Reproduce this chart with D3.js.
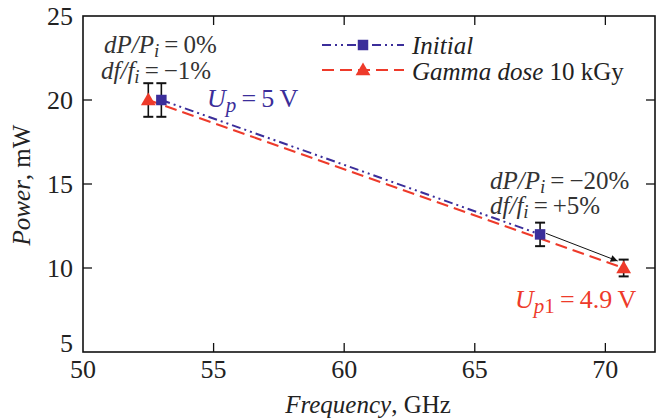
<!DOCTYPE html>
<html><head><meta charset="utf-8">
<script src="https://cdn.jsdelivr.net/npm/d3@7"></script>
</head><body style="margin:0">
<svg id="c" width="657" height="419"></svg>
<script>
const xTicks = [50, 55, 60, 65, 70];
const yTicks = [5, 10, 15, 20, 25];
const seriesNames = ["Initial", "Gamma dose"];
const initialFreq = [53.0, 67.5];
const initialPower = [20.0, 12.0];
const initialErr = [1.0, 0.7];
const gammaFreq = [52.5, 70.7];
const gammaPower = [20.0, 10.0];
const gammaErr = [1.0, 0.5];

const svg = d3.select("#c");
const L = 83, R = 655, T = 16, B = 352;
const x = d3.scaleLinear().domain([50, 71.9]).range([L, R]);
const y = d3.scaleLinear().domain([5, 25]).range([B, T]);
const blue = "#3b2e9a", red = "#ee3a2a", gray = "#333";
function txt(xp, yp, size, color) {
  return svg.append("text").style("font-family", "Liberation Serif")
    .attr("x", xp).attr("y", yp).style("font-size", size + "px").style("fill", color);
}

svg.append("rect").attr("x", L).attr("y", T).attr("width", R - L).attr("height", B - T)
  .attr("fill", "none").attr("stroke", "#111").attr("stroke-width", 1.6);

const tl = 9;
xTicks.forEach(t => {
  if (t === 50) return;
  svg.append("line").attr("x1", x(t)).attr("x2", x(t)).attr("y1", B).attr("y2", B - tl).attr("stroke", "#111").attr("stroke-width", 1.3);
  svg.append("line").attr("x1", x(t)).attr("x2", x(t)).attr("y1", T).attr("y2", T + tl).attr("stroke", "#111").attr("stroke-width", 1.3);
});
yTicks.forEach(t => {
  if (t === 5 || t === 25) return;
  svg.append("line").attr("x1", L).attr("x2", L + tl).attr("y1", y(t)).attr("y2", y(t)).attr("stroke", "#111").attr("stroke-width", 1.3);
  svg.append("line").attr("x1", R).attr("x2", R - tl).attr("y1", y(t)).attr("y2", y(t)).attr("stroke", "#111").attr("stroke-width", 1.3);
});
xTicks.forEach(t => {
  txt(x(t), B + 26, 26, "#222").attr("text-anchor", "middle").text(t);
});
yTicks.forEach(t => {
  txt(L - 10, y(t) + (t === 5 ? 0 : 9), 26, "#222").attr("text-anchor", "end").text(t);
});
const xt = txt(368, 413, 25, "#222").attr("text-anchor", "middle");
xt.append("tspan").style("font-style", "italic").text("Frequency");
xt.append("tspan").text(", GHz");
const yt = txt(0, 0, 25, "#222").attr("transform", "translate(30,185) rotate(-90)").attr("text-anchor", "middle");
yt.append("tspan").style("font-style", "italic").text("Power");
yt.append("tspan").text(", mW");

const line = d3.line().x(d => x(d[0])).y(d => y(d[1]));
const iData = initialFreq.map((f, i) => [f, initialPower[i], initialErr[i]]);
const gData = gammaFreq.map((f, i) => [f, gammaPower[i], gammaErr[i]]);
const blueDash = "9,4,2,4,2,4";
const redDash = "12,6";
svg.append("path").attr("d", line(gData)).attr("fill", "none").attr("stroke", red).attr("stroke-width", 2).attr("stroke-dasharray", redDash);
svg.append("path").attr("d", line(iData)).attr("fill", "none").attr("stroke", blue).attr("stroke-width", 2).attr("stroke-dasharray", blueDash);

function errBar(d) {
  const cx = x(d[0]);
  const y1 = y(d[1] + d[2]), y2 = y(d[1] - d[2]);
  svg.append("line").attr("x1", cx).attr("x2", cx).attr("y1", y1).attr("y2", y2).attr("stroke", "#111").attr("stroke-width", 1.6);
  [y1, y2].forEach(yy => svg.append("line").attr("x1", cx - 5).attr("x2", cx + 5).attr("y1", yy).attr("y2", yy).attr("stroke", "#111").attr("stroke-width", 2));
}
iData.forEach(errBar);
gData.forEach(errBar);

svg.append("defs").append("marker").attr("id", "ah").attr("viewBox", "0 0 10 10").attr("refX", 10).attr("refY", 5)
  .attr("markerWidth", 9).attr("markerHeight", 7).attr("orient", "auto").attr("markerUnits", "userSpaceOnUse")
  .append("path").attr("d", "M0,0L10,5L0,10Z").attr("fill", "#111");
svg.append("line").attr("x1", x(initialFreq[1]) + 6).attr("y1", y(initialPower[1]) - 1)
  .attr("x2", x(gammaFreq[1]) - 6).attr("y2", y(gammaPower[1]) - 7)
  .attr("stroke", "#111").attr("stroke-width", 1).attr("marker-end", "url(#ah)");

const sq = d3.symbol().type(d3.symbolSquare).size(110);
const tri = d3.symbol().type(d3.symbolTriangle).size(95);
svg.selectAll(".sq").data(iData).join("path").attr("transform", d => `translate(${x(d[0])},${y(d[1])})`).attr("d", sq).attr("fill", blue);
svg.selectAll(".tri").data(gData).join("path").attr("transform", d => `translate(${x(d[0])},${y(d[1]) + 1})`).attr("d", tri).attr("fill", red);

const lx1 = 322, lx2 = 404, lxm = 363;
svg.append("line").attr("x1", lx1).attr("x2", lx2).attr("y1", 45).attr("y2", 45).attr("stroke", blue).attr("stroke-width", 2).attr("stroke-dasharray", blueDash);
svg.append("path").attr("transform", `translate(${lxm},45)`).attr("d", sq).attr("fill", blue);
svg.append("line").attr("x1", lx1).attr("x2", lx2).attr("y1", 70).attr("y2", 70).attr("stroke", red).attr("stroke-width", 2).attr("stroke-dasharray", redDash);
svg.append("path").attr("transform", `translate(${lxm},71)`).attr("d", tri).attr("fill", red);
txt(412, 54, 25, "#222").style("font-style", "italic").text(seriesNames[0]);
const lg2 = txt(412, 80, 25, "#222");
lg2.append("tspan").style("font-style", "italic").text(seriesNames[1]);
lg2.append("tspan").text(" 10 kGy");

function ratio(xp, yp, num, den, val, color) {
  const t = txt(xp, yp, 25, color);
  t.append("tspan").style("font-style", "italic").text(num + "/" + den);
  t.append("tspan").style("font-style", "italic").style("font-size", "19px").attr("dy", 4).text("i");
  t.append("tspan").attr("dy", -4).text("\u2009=\u2009" + val);
  return t;
}
ratio(104, 53, "dP", "P", "0%", gray);
ratio(101, 79, "df", "f", "\u22121%", gray);
ratio(490, 189, "dP", "P", "\u221220%", gray);
ratio(490, 214, "df", "f", "+5%", gray);

const u1 = txt(207, 107, 26, blue);
u1.append("tspan").style("font-style", "italic").text("U");
u1.append("tspan").style("font-style", "italic").style("font-size", "21px").attr("dy", 5).text("p");
u1.append("tspan").attr("dy", -5).text("\u2009=\u20095\u2009V");
const u2 = txt(515, 308, 26, red);
u2.append("tspan").style("font-style", "italic").text("U");
u2.append("tspan").style("font-style", "italic").style("font-size", "21px").attr("dy", 5).text("p");
u2.append("tspan").style("font-size", "21px").text("1");
u2.append("tspan").attr("dy", -5).text("\u2009=\u20094.9\u2009V");
</script>
</body></html>
